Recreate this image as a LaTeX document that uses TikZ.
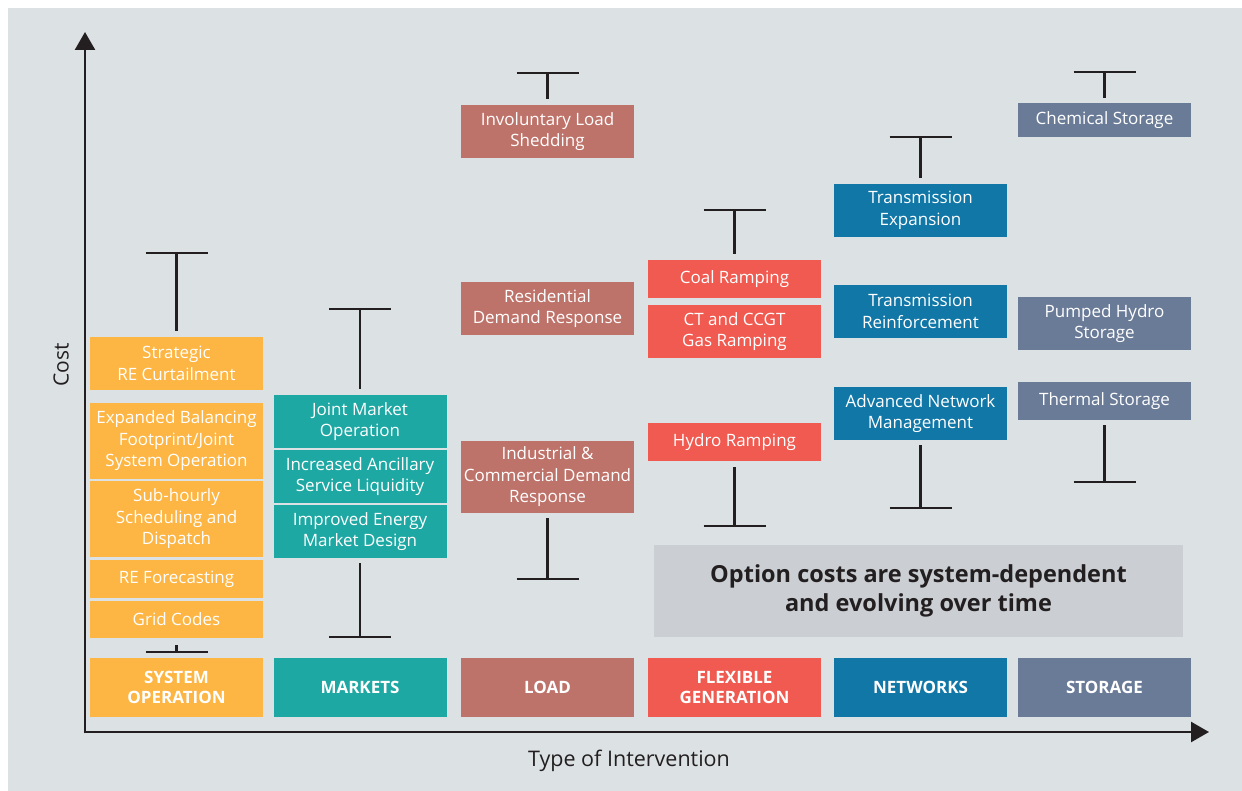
\documentclass[tikz,border=0pt]{standalone}
\usepackage{fontspec}
\setmainfont{Open Sans}
\usetikzlibrary{calc,arrows.meta}

\definecolor{bgray}{HTML}{DCE1E4}
\definecolor{notegray}{HTML}{CBCFD3}
\definecolor{socol}{HTML}{FDB543}
\definecolor{mkcol}{HTML}{1EA8A3}
\definecolor{ldcol}{HTML}{BE736A}
\definecolor{fgcol}{HTML}{F05A50}
\definecolor{nwcol}{HTML}{1177A7}
\definecolor{stcol}{HTML}{6A7B98}
\definecolor{ink}{HTML}{231F20}

\tikzset{
  box/.style={minimum width=173pt, inner sep=0pt, text=white, align=center,
    font=\fontsize{17}{21.5}\selectfont},
  catbox/.style={box, minimum height=59pt, font=\fontsize{17}{20}\selectfont\bfseries},
  whisker/.style={draw=ink, line width=2.5pt},
  axis/.style={draw=ink, line width=2.5pt, -{Triangle[length=18pt,width=20pt]}}
}

\begin{document}
\begin{tikzpicture}[x=1pt, y=-1pt]

\useasboundingbox (0,0) rectangle (1242,791);
\fill[white] (0,0) rectangle (1242,791);
\fill[bgray] (8,8) rectangle (1242,791);

% axes
\coordinate (origin) at (85,732);
\coordinate (ytip) at (85,32);
\coordinate (xtip) at (1209,732);
\draw[axis] ([yshift=-1.25pt]origin) -- (ytip);
\draw[axis] ([xshift=-1.25pt]origin) -- (xtip);
\node[name=ylab, rotate=90, text=ink, font=\fontsize{21}{25}\selectfont] at (61,365) {Cost};
\node[name=xlab, text=ink, font=\fontsize{21.5}{25}\selectfont] at (629,761) {Type of Intervention};

% system operation
\node[name=so0, catbox, fill=socol] at (176.5,687.5) {SYSTEM\\OPERATION};
\node[name=so1, box, fill=socol, minimum height=53pt] at (176.5,363.5) {Strategic\\RE Curtailment};
\node[name=so2, box, fill=socol, minimum height=76pt] at (176.5,441) {Expanded Balancing\\Footprint/Joint\\System Operation};
\node[name=so3, box, fill=socol, minimum height=76pt] at (176.5,519) {Sub-hourly\\Scheduling and\\Dispatch};
\node[name=so4, box, fill=socol, minimum height=38pt] at (176.5,579) {RE Forecasting};
\node[name=so5, box, fill=socol, minimum height=37pt] at (176.5,619.5) {Grid Codes};
\coordinate (so1t) at (176.5,253);
\coordinate (so5b) at (176.5,652);

% markets
\node[name=mk0, catbox, fill=mkcol] at (360,687.5) {MARKETS};
\node[name=mk1, box, fill=mkcol, minimum height=53pt] at (360,421.5) {Joint Market\\Operation};
\node[name=mk2, box, fill=mkcol, minimum height=53pt] at (360,476.5) {Increased Ancillary\\Service Liquidity};
\node[name=mk3, box, fill=mkcol, minimum height=53pt] at (360,531.5) {Improved Energy\\Market Design};
\coordinate (mk1t) at (360,309);
\coordinate (mk3b) at (360,637);

% load
\node[name=ld0, catbox, fill=ldcol] at (547.5,687.5) {LOAD};
\node[name=ld1, box, fill=ldcol, minimum height=53pt] at (547.5,131.5) {Involuntary Load\\Shedding};
\node[name=ld2, box, fill=ldcol, minimum height=53pt] at (547.5,308.5) {Residential\\Demand Response};
\node[name=ld3, box, fill=ldcol, minimum height=72pt] at (547.5,477) {Industrial \&\\Commercial Demand\\Response};
\coordinate (ld1t) at (547.5,73);
\coordinate (ld3b) at (547.5,579);

% flexible generation
\node[name=fg0, catbox, fill=fgcol] at (734.5,687.5) {FLEXIBLE\\GENERATION};
\node[name=fg1, box, fill=fgcol, minimum height=38pt] at (734.5,279) {Coal Ramping};
\node[name=fg2, box, fill=fgcol, minimum height=53pt] at (734.5,331.5) {CT and CCGT\\Gas Ramping};
\node[name=fg3, box, fill=fgcol, minimum height=38pt] at (734.5,442) {Hydro Ramping};
\coordinate (fg1t) at (734.5,210);
\coordinate (fg3b) at (734.5,526);

% networks
\node[name=nw0, catbox, fill=nwcol] at (920.5,687.5) {NETWORKS};
\node[name=nw1, box, fill=nwcol, minimum height=53pt] at (920.5,210.5) {Transmission\\Expansion};
\node[name=nw2, box, fill=nwcol, minimum height=53pt] at (920.5,311.5) {Transmission\\Reinforcement};
\node[name=nw3, box, fill=nwcol, minimum height=53pt] at (920.5,413.5) {Advanced Network\\Management};
\coordinate (nw1t) at (920.5,137);
\coordinate (nw3b) at (920.5,508);

% storage
\node[name=st0, catbox, fill=stcol] at (1104.5,687.5) {STORAGE};
\node[name=st1, box, fill=stcol, minimum height=34pt] at (1104.5,120) {Chemical Storage};
\node[name=st2, box, fill=stcol, minimum height=53pt] at (1104.5,323.5) {Pumped Hydro\\Storage};
\node[name=st3, box, fill=stcol, minimum height=38pt] at (1104.5,401) {Thermal Storage};
\coordinate (st1t) at (1104.5,72);
\coordinate (st3b) at (1104.5,482);

% note
\node[name=note, fill=notegray, minimum width=529pt, minimum height=92pt, align=center,
  text=ink, font=\fontsize{23.5}{29}\selectfont\bfseries] at (918.5,591)
  {Option costs are system-dependent\\and evolving over time};

% range bars
\draw[whisker] ([yshift=6pt]so1.north) -- (so1t) ++(-31,0) -- ++(62,0);
\draw[whisker] ([yshift=-7pt]so5.south) -- (so5b) ++(-31,0) -- ++(62,0);
\draw[whisker] ([yshift=6pt]mk1.north) -- (mk1t) ++(-31,0) -- ++(62,0);
\draw[whisker] ([yshift=-5pt]mk3.south) -- (mk3b) ++(-31,0) -- ++(62,0);
\draw[whisker] ([yshift=6pt]ld1.north) -- (ld1t) ++(-31,0) -- ++(62,0);
\draw[whisker] ([yshift=-5pt]ld3.south) -- (ld3b) ++(-31,0) -- ++(62,0);
\draw[whisker] ([yshift=6pt]fg1.north) -- (fg1t) ++(-31,0) -- ++(62,0);
\draw[whisker] ([yshift=-6pt]fg3.south) -- (fg3b) ++(-31,0) -- ++(62,0);
\draw[whisker] ([yshift=6pt]nw1.north) -- (nw1t) ++(-31,0) -- ++(62,0);
\draw[whisker] ([yshift=-5pt]nw3.south) -- (nw3b) ++(-31,0) -- ++(62,0);
\draw[whisker] ([yshift=5pt]st1.north) -- (st1t) ++(-31,0) -- ++(62,0);
\draw[whisker] ([yshift=-5pt]st3.south) -- (st3b) ++(-31,0) -- ++(62,0);

\end{tikzpicture}
\end{document}
